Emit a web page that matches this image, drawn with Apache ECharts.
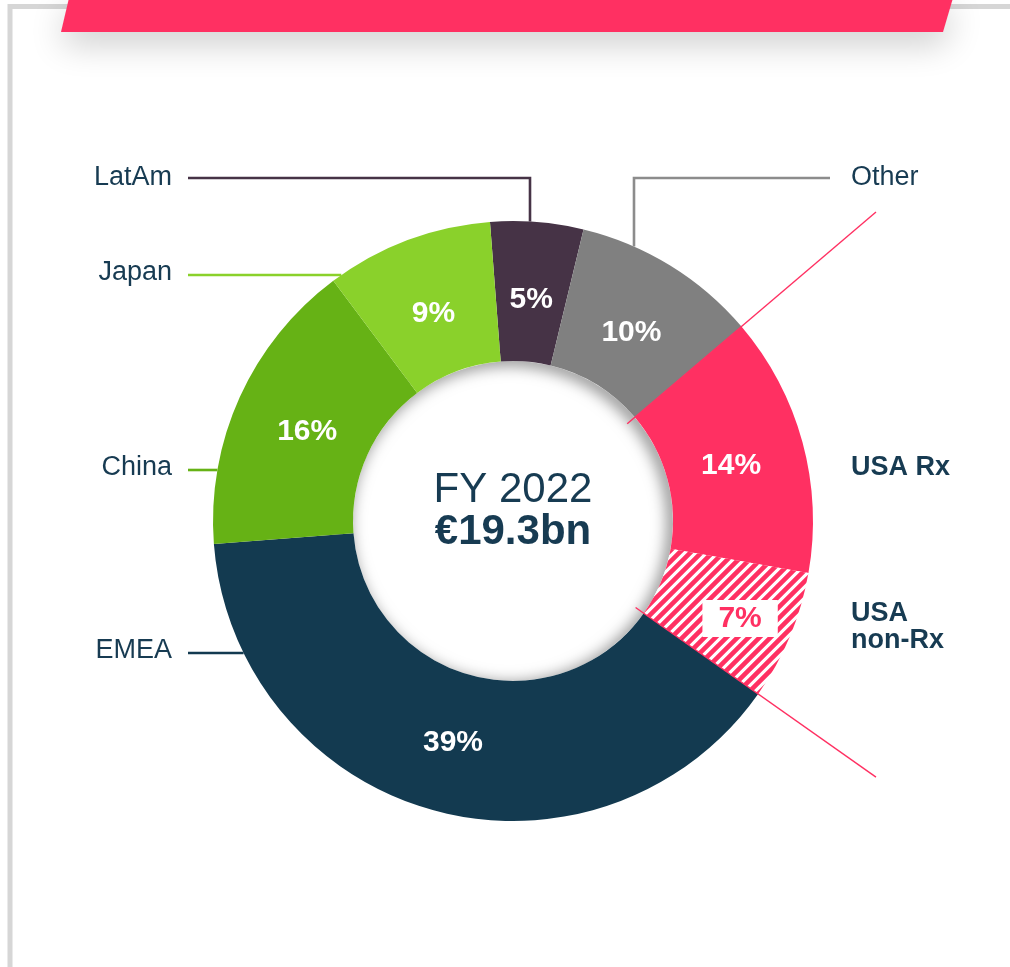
<!DOCTYPE html>
<html>
<head>
<meta charset="utf-8">
<script src="https://cdn.jsdelivr.net/npm/echarts@6/dist/echarts.min.js"></script>
<style>
  html, body { margin: 0; padding: 0; background: #ffffff; }
  #chart { width: 1010px; height: 967px; }
</style>
</head>
<body>
<div id="chart"></div>
<script>
// Sales split by region, FY 2022 (share of total, %)
const regions = ['LatAm', 'Other', 'USA Rx', 'USA non-Rx', 'EMEA', 'China', 'Japan'];
const shares = [5, 10, 14, 7, 39, 16, 9];
const regionLabels = ['LatAm', 'Other', 'USA Rx', 'USA\nnon-Rx', 'EMEA', 'China', 'Japan'];
const centerTitle = 'FY 2022';
const centerTotal = '€19.3bn';

// ---- styling ----
const PINK = '#ff3062';
const NAVY_TEXT = '#173b52';
const sliceColors = {
  'LatAm': '#463346',
  'Other': '#808080',
  'USA Rx': PINK,
  'USA non-Rx': 'hatch',
  'EMEA': '#133a50',
  'China': '#66b215',
  'Japan': '#8ad12b'
};
const lineColors = {
  'LatAm': '#463346',
  'Other': '#8c8c8c',
  'Japan': '#8ad12b',
  'China': '#66b215',
  'EMEA': '#133a50'
};
const FONT = '"Liberation Sans", Arial, Helvetica, sans-serif';

// ---- geometry of the ring ----
const CX = 513, CY = 521, R0 = 160, R1 = 300;
const START_ANGLE = 94.4;             // echarts degrees (counter-clockwise from 3 o'clock)
const THETA0 = 90 - START_ANGLE;      // same, as clockwise degrees from 12 o'clock

function pt(thetaDeg, r) {
  const t = thetaDeg * Math.PI / 180;
  return [CX + r * Math.sin(t), CY - r * Math.cos(t)];
}

const total = shares.reduce((a, b) => a + b, 0);
const bounds = [];
(function () {
  let acc = 0;
  shares.forEach(v => {
    const a = THETA0 + acc / total * 360;
    acc += v;
    bounds.push([a, THETA0 + acc / total * 360]);
  });
})();

// outer label placement (offsets from the ring centre)
const TOP_Y = -343, LEFT_X = -325, RIGHT_X = 317;
const outerLayout = {
  'LatAm': { side: 'left', elbowX: 17 },
  'Other': { side: 'right', elbowX: 121 },
  'Japan': { side: 'left', lineY: -246 },
  'China': { side: 'left', lineY: -51 },
  'EMEA': { side: 'left', lineY: 132 },
  'USA Rx': { side: 'right', textY: -53 },
  'USA non-Rx': { side: 'right', textY: 106 }
};

// diagonal stripe fill
function hatch(color) {
  const s = 11;
  const c = document.createElement('canvas');
  c.width = s; c.height = s;
  const g = c.getContext('2d');
  g.fillStyle = '#ffffff';
  g.fillRect(0, 0, s, s);
  g.strokeStyle = color;
  g.lineWidth = 4.6;
  g.beginPath();
  g.moveTo(-2, 2); g.lineTo(2, -2);
  g.moveTo(-1, s + 1); g.lineTo(s + 1, -1);
  g.moveTo(s - 2, s + 2); g.lineTo(s + 2, s - 2);
  g.stroke();
  return c;
}
const hatchFill = { image: hatch(PINK), repeat: 'repeat' };

const chart = echarts.init(document.getElementById('chart'), null, { renderer: 'canvas' });

const innerData = regions.map((name, i) => {
  const col = sliceColors[name] === 'hatch' ? hatchFill : sliceColors[name];
  const item = { name: name, value: shares[i], itemStyle: { color: col } };
  if (name === 'USA non-Rx') {
    item.label = {
      color: PINK,
      backgroundColor: '#ffffff',
      padding: [4, 16, 3, 16]
    };
  }
  return item;
});

const outerData = regions.map((name, i) => {
  const L = outerLayout[name];
  const item = {
    name: name,
    value: shares[i],
    label: { formatter: regionLabels[i] },
    labelLine: { show: L.textY == null, lineStyle: { color: lineColors[name] || NAVY_TEXT } }
  };
  if (name.indexOf('USA') === 0) {
    item.label.fontWeight = 'bold';
    item.label.lineHeight = 27;
  }
  return item;
});

// percentage labels sit a little inside the mid-radius of each slice
function innerLabelLayout(params) {
  const name = regions[params.dataIndex];
  if (name === 'USA non-Rx') return { dx: 12, dy: 8 };
  const b = bounds[params.dataIndex];
  const mid = (b[0] + b[1]) / 2 * Math.PI / 180;
  const inward = 7;
  return { dx: -inward * Math.sin(mid), dy: inward * Math.cos(mid) + 4 };
}

function outerLabelLayout(params) {
  const name = regions[params.dataIndex];
  const L = outerLayout[name];
  const left = L.side === 'left';
  const endX = CX + (left ? LEFT_X : RIGHT_X);
  const textX = left ? endX - 16 : endX + 21;
  let pts = null, ly, ty;
  if (L.elbowX != null) {
    const ax = CX + L.elbowX;
    const ay = CY - Math.sqrt(R1 * R1 - L.elbowX * L.elbowX);
    ly = CY + TOP_Y;
    pts = [[ax, ay], [ax, ly], [endX, ly]];
    ty = ly;
  } else if (L.lineY != null) {
    ly = CY + L.lineY;
    const dx = Math.sqrt(R1 * R1 - L.lineY * L.lineY);
    const ax = left ? CX - dx : CX + dx;
    pts = [[ax, ly], [(ax + endX) / 2, ly], [endX, ly]];
    ty = ly - 2;
  } else {
    ty = CY + L.textY;
  }
  const out = {
    x: textX,
    y: ty,
    align: left ? 'right' : 'left',
    verticalAlign: 'middle'
  };
  if (pts) out.labelLinePoints = pts;
  return out;
}

// thin pink lines marking the USA slices
const usaStart = bounds[regions.indexOf('USA Rx')][0];
const usaEnd = bounds[regions.indexOf('USA non-Rx')][1];
function bracket(theta) {
  const rEnd = 363 / Math.sin(theta * Math.PI / 180);
  const a = pt(theta, 150), b = pt(theta, rEnd);
  return {
    type: 'line', z: 100,
    shape: { x1: a[0], y1: a[1], x2: b[0], y2: b[1] },
    style: { stroke: PINK, lineWidth: 1.4 }
  };
}

const option = {
  backgroundColor: '#ffffff',
  animation: false,
  textStyle: { fontFamily: FONT },
  graphic: [
    // page frame
    {
      type: 'rect', z: 1,
      shape: { x: 10, y: 6.5, width: 1300, height: 1300 },
      style: { fill: null, stroke: '#d6d6d6', lineWidth: 5 }
    },
    // heading banner
    {
      type: 'polygon', z: 5,
      shape: { points: [[69, -2], [953, -2], [943, 32], [61, 32]] },
      style: {
        fill: PINK,
        shadowBlur: 34,
        shadowColor: 'rgba(0,0,0,0.20)',
        shadowOffsetY: 12
      }
    },
    bracket(usaStart),
    bracket(usaEnd),
    // centre text
    {
      type: 'text', z: 100,
      x: CX, y: CY - 31,
      style: {
        text: centerTitle,
        font: '42px ' + FONT,
        fill: NAVY_TEXT,
        align: 'center', textAlign: 'center',
        verticalAlign: 'middle', textVerticalAlign: 'middle'
      }
    },
    {
      type: 'text', z: 100,
      x: CX, y: CY + 11,
      style: {
        text: centerTotal,
        font: 'bold 42px ' + FONT,
        fill: NAVY_TEXT,
        align: 'center', textAlign: 'center',
        verticalAlign: 'middle', textVerticalAlign: 'middle'
      }
    }
  ],
  series: [
    // soft shadow along the inner edge of the ring
    {
      type: 'pie',
      z: 1,
      silent: true,
      center: [CX, CY],
      radius: [R0, R0 + 12],
      startAngle: START_ANGLE,
      label: { show: false },
      labelLine: { show: false },
      itemStyle: {
        color: '#ffffff',
        shadowBlur: 16,
        shadowColor: 'rgba(0,0,0,0.55)',
        shadowOffsetX: -4,
        shadowOffsetY: 3
      },
      data: [{ value: 1, name: 'shadow' }]
    },
    // the ring with its percentage labels
    {
      type: 'pie',
      z: 2,
      silent: true,
      center: [CX, CY],
      radius: [R0, R1],
      startAngle: START_ANGLE,
      clockwise: true,
      avoidLabelOverlap: false,
      itemStyle: { borderWidth: 0 },
      label: {
        show: true,
        position: 'inside',
        formatter: '{c}%',
        color: '#ffffff',
        fontFamily: FONT,
        fontWeight: 'bold',
        fontSize: 30,
        lineHeight: 30
      },
      labelLayout: innerLabelLayout,
      labelLine: { show: false },
      data: innerData
    },
    // region names with leader lines
    {
      type: 'pie',
      z: 3,
      silent: true,
      center: [CX, CY],
      radius: [R0, R1],
      startAngle: START_ANGLE,
      clockwise: true,
      avoidLabelOverlap: false,
      itemStyle: { color: 'rgba(0,0,0,0)', borderWidth: 0 },
      label: {
        show: true,
        position: 'outside',
        color: NAVY_TEXT,
        fontFamily: FONT,
        fontSize: 27,
        lineHeight: 30
      },
      labelLine: {
        show: true,
        length: 20,
        length2: 20,
        smooth: false,
        lineStyle: { width: 2.6 }
      },
      labelLayout: outerLabelLayout,
      data: outerData
    }
  ]
};

chart.setOption(option);
</script>
</body>
</html>
